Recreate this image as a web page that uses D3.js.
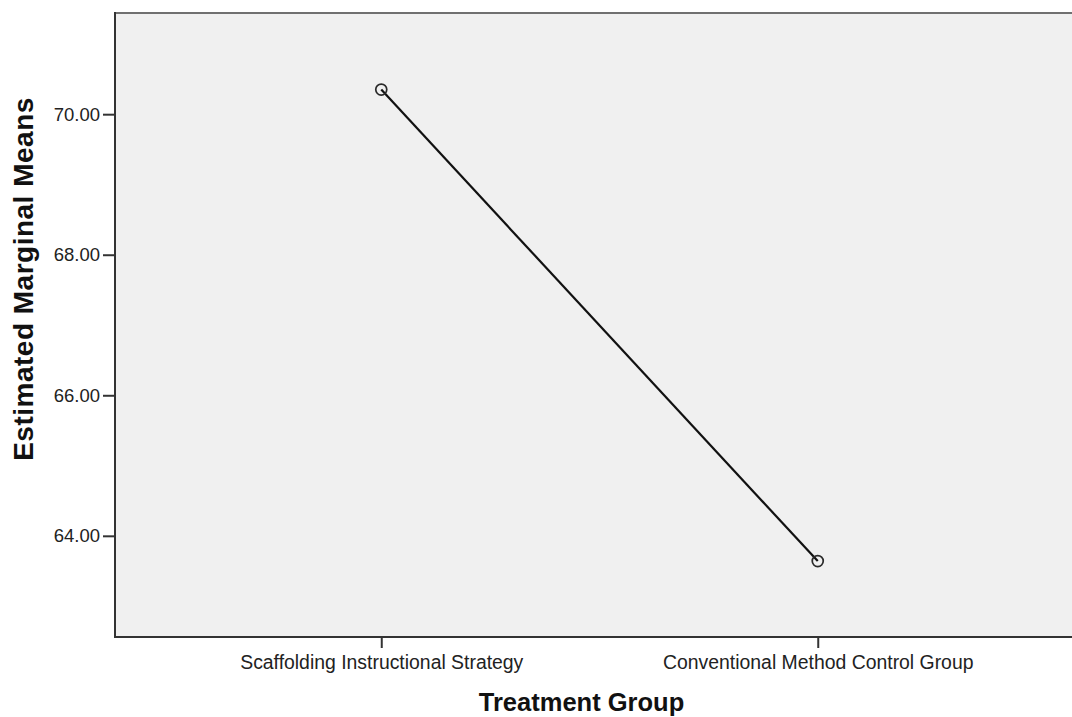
<!DOCTYPE html>
<html>
<head>
<meta charset="utf-8">
<script src="https://cdn.jsdelivr.net/npm/d3@7"></script>
<style>
  body { margin: 0; background: #fff; }
  svg { display: block; font-family: "Liberation Sans", Arial, sans-serif; }
</style>
</head>
<body>
<main></main>
<script>
// data
const groups = ["Scaffolding Instructional Strategy", "Conventional Method Control Group"]
const means = [70.35, 63.64]
const yTicks = [64, 66, 68, 70]

const size = { width: 1072, height: 717 }
const plot = { left: 115, top: 13, right: 1084, bottom: 637 }

const svg = d3.select('main')
    .append('svg')
    .attr('width', size.width)
    .attr('height', size.height)

const x = d3.scalePoint()
    .domain(groups)
    .range([plot.left, plot.right])
    .padding(0.61)

const y = d3.scaleLinear()
    .domain([62.56, 71.44])
    .range([plot.bottom, plot.top])

// plot background
svg.append('rect')
    .attr('x', plot.left)
    .attr('y', plot.top)
    .attr('width', plot.right - plot.left)
    .attr('height', plot.bottom - plot.top)
    .attr('fill', '#f0f0f0')

// frame: top is lighter grey, left/bottom darker
svg.append('line')
    .attr('x1', plot.left).attr('x2', plot.right)
    .attr('y1', plot.top).attr('y2', plot.top)
    .attr('stroke', '#707070').attr('stroke-width', 2)

// y axis
const yAxis = d3.axisLeft(y)
    .tickValues(yTicks)
    .tickSize(12)
    .tickPadding(3)
    .tickFormat(d3.format('.2f'))

const gy = svg.append('g')
    .attr('transform', `translate(${plot.left},0)`)
    .call(yAxis)
gy.select('.domain').remove()
gy.selectAll('line').attr('stroke', '#333').attr('stroke-width', 2)
gy.selectAll('text')
    .attr('font-size', 18.5)
    .attr('font-family', '"Liberation Sans", Arial, sans-serif')
    .attr('fill', '#222')

// x axis
const xAxis = d3.axisBottom(x).tickSize(11).tickPadding(7)
const gx = svg.append('g')
    .attr('transform', `translate(0,${plot.bottom})`)
    .call(xAxis)
gx.select('.domain').remove()
gx.selectAll('line').attr('stroke', '#333').attr('stroke-width', 2)
gx.selectAll('text')
    .attr('font-size', 19.4)
    .attr('font-family', '"Liberation Sans", Arial, sans-serif')
    .attr('fill', '#222')

// left and bottom frame lines
svg.append('line')
    .attr('x1', plot.left).attr('x2', plot.left)
    .attr('y1', plot.top - 1).attr('y2', plot.bottom + 1)
    .attr('stroke', '#333').attr('stroke-width', 2)
svg.append('line')
    .attr('x1', plot.left - 1).attr('x2', plot.right)
    .attr('y1', plot.bottom).attr('y2', plot.bottom)
    .attr('stroke', '#333').attr('stroke-width', 2)

// the line and markers
const pts = groups.map((g, i) => ({ g: g, v: means[i] }))

svg.append('path')
    .datum(pts)
    .attr('fill', 'none')
    .attr('stroke', '#111')
    .attr('stroke-width', 2.2)
    .attr('d', d3.line().x(d => x(d.g)).y(d => y(d.v)))

svg.selectAll('circle.pt')
    .data(pts)
    .enter()
    .append('circle')
    .attr('class', 'pt')
    .attr('cx', d => x(d.g))
    .attr('cy', d => y(d.v))
    .attr('r', 5.5)
    .attr('fill', 'none')
    .attr('stroke', '#2a2a2a')
    .attr('stroke-width', 1.7)

// axis titles
svg.append('text')
    .attr('x', (plot.left + plot.right) / 2 - 18)
    .attr('y', 711)
    .attr('text-anchor', 'middle')
    .attr('font-size', 25.5)
    .attr('font-weight', 'bold')
    .attr('fill', '#111')
    .text('Treatment Group')

svg.append('text')
    .attr('transform', `translate(33,${279}) rotate(-90)`)
    .attr('text-anchor', 'middle')
    .attr('font-size', 28)
    .attr('font-weight', 'bold')
    .attr('letter-spacing', 0.5)
    .attr('fill', '#111')
    .text('Estimated Marginal Means')
</script>
</body>
</html>
